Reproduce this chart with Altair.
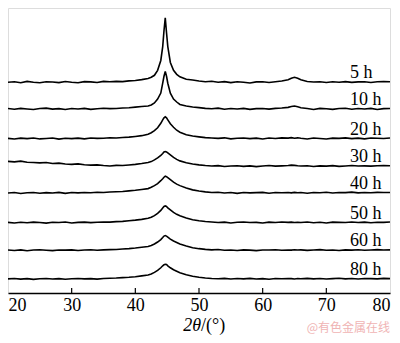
import altair as alt
import pandas as pd

# 2-theta grid (degrees)
X = [20, 21, 22, 23, 24, 25, 26, 27, 28, 29, 30, 31, 32, 33, 34, 35, 36, 37, 38, 39, 40, 41,
     42, 42.5, 43, 43.5, 44, 44.3, 44.5, 44.7, 44.9, 45.1, 45.5, 46, 46.5, 47,
     48, 49, 50, 51, 52, 53, 54, 55, 56, 57, 58, 59, 60, 61, 62, 63, 64,
     64.5, 65, 65.5,
     66, 67, 68, 69, 70, 71, 72, 73, 74, 75, 76, 77, 78, 79, 80]

LABELS = ["5 h", "10 h", "20 h", "30 h", "40 h", "50 h", "60 h", "80 h"]
OFFSETS = [213, 186, 156, 128, 101, 71, 43, 14]

I5 = ([0, 0.5, -0.5, 0.8, 0, -0.6, 0.5, 0.2, -0.4, 0.7, 0, -0.5, 0.6, 0.3, -0.3, 0.8, 0.4, 0.9, 0.6, 1.4, 1.8, 2.6]
      + [3.8, 5, 7, 12, 22, 36, 52, 65, 50, 36, 20, 12, 8, 5.5]
      + [3, 2.2, 1.2, 0.5, 1, 0, 0.6, -0.4, 0.5, 0, -0.8, 0.3, 0.4, -0.3, 0.5, 1.2, 2.5]
      + [4, 5, 4]
      + [2.5, 0.8, 0.2, 0.5, -0.3, 0.4, 0, 0.6, -0.2, 0.3, 0.5, -0.3, 0.4, 0.7, 0.5])
I10 = ([0.5, -0.3, 0.6, 0, -0.5, 0.4, 0.8, -0.2, 0.3, -0.6, 0.5, 0, 0.6, -0.4, 0.2, 0.7, 0.3, 0.5, 1, 1.2, 1.8, 2.4]
       + [3, 4, 6, 10, 16, 26, 33, 38, 33, 26, 16, 10, 7, 4.5]
       + [3, 2, 1.3, 0.6, 0.2, 0.8, -0.3, 0.5, 0, 0.6, -0.4, 0.3, 0.5, -0.2, 0.6, 0.9, 1.6]
       + [2.4, 3, 2.2]
       + [1.2, 0.4, -0.5, 0.6, 0.2, -0.4, 0.5, 0.7, -0.3, 0.4, 0, 0.6, -0.5, 0.3, 0.5])
I20 = ([0.3, -0.4, 0.5, 0, 0.6, -0.3, 0.2, 0.7, -0.5, 0.4, 0, 0.5, -0.2, 0.6, 0.3, 0.4, 0.9, 0.6, 1.2, 1.5, 2.2, 3]
       + [4.5, 6, 8, 11, 15.5, 19, 21, 22, 21, 19, 15, 11.5, 8.5, 6.5]
       + [4, 2.6, 1.8, 1, 0.6, 0.3, 0.8, -0.2, 0.4, 0.6, 0, 0.5, -0.3, 0.6, 0.2, 0.8, 0.5]
       + [1, 0.4, 0.8]
       + [0.3, -0.3, 0.6, 0.2, -0.4, 0.5, 0.3, 0.8, 0, 0.5, -0.2, 0.6, 0.4, 0.2, 0.7])
I30 = ([5, 4.5, 5.3, 4.2, 3.8, 3.5, 3.9, 2.8, 3.2, 2.4, 2, 2.5, 1.6, 1.2, 1.5, 0.8, 0.4, 1, 0.8, 1.4, 2, 2.8]
       + [3.8, 4.8, 6.5, 8.5, 11, 13, 14.5, 15, 14.5, 13.5, 11.5, 9, 7, 5.5]
       + [3.6, 2.4, 1.5, 0.8, 0.3, 0.7, -0.2, 0.4, 0.6, 0, 0.5, -0.3, 0.4, 0.8, 0.2, 0.5, 0.9]
       + [1.2, 1, 0.6]
       + [0.3, 0.6, -0.2, 0.5, 0.2, 0.7, 0, 0.4, 0.8, 0.3, 0.5, 0.2, 0.6, 0.9, 0.6])
I40 = ([0, 0.5, -0.4, 0.3, 0.6, -0.2, 0.4, 0, 0.7, -0.3, 0.5, 0.2, 0.6, 0.3, 0.8, 0.5, 1, 1.3, 1.6, 2.2, 2.8, 3.6]
       + [4.5, 5.8, 7.5, 9.5, 12.5, 14.5, 16, 17, 16.5, 15.5, 13.5, 11, 9, 7.5]
       + [5, 3.2, 2, 1.2, 0.6, 0.8, 0, 0.5, -0.3, 0.6, 0.2, 0.4, 0.7, -0.2, 0.5, 0.3, 0.6]
       + [0.2, 0.7, 0.3]
       + [0.5, -0.2, 0.6, 0.3, 0.8, 0, 0.5, 0.4, 0.9, 0.2, 0.6, 0.3, 0.7, 0.5, 0.6])
I50 = ([0.4, -0.3, 0.5, 0, 0.6, 0.2, -0.4, 0.5, 0.3, 0.7, -0.2, 0.4, 0.6, 0.1, 0.5, 0.8, 0.6, 1.1, 1.4, 2, 2.6, 3.4]
       + [4.5, 5.5, 7.2, 9.5, 12.5, 15, 16.5, 17, 16.5, 15, 13, 10.5, 8.5, 7]
       + [4.8, 3, 2, 1.2, 0.8, 0.3, 0.6, -0.2, 0.5, 0.8, 0.2, 0.4, -0.3, 0.6, 0.3, 0.7, 0.4]
       + [0.6, 0.2, 0.5]
       + [0.3, 0.7, 0, 0.5, -0.2, 0.6, 0.4, 0.2, 0.7, 0.3, 0.6, 0, 0.5, 0.4, 0.7])
I60 = ([0.5, 0, 0.6, -0.3, 0.4, 0.7, 0.2, -0.2, 0.5, 0.3, 0.6, 0, 0.4, 0.7, 0.2, 0.6, 0.8, 1, 1.4, 1.8, 2.4, 3.2]
       + [4, 5, 6.5, 8.5, 11, 13, 14.5, 15, 14.5, 13.5, 11.5, 9.5, 8, 6.5]
       + [4.5, 2.8, 1.8, 1.1, 0.6, 0.9, 0.2, 0.5, 0, 0.6, 0.3, -0.2, 0.5, 0.4, 0.7, 0.2, 0.5]
       + [0.3, 0.7, 0.4]
       + [0.6, 0.1, 0.5, 0.8, 0.2, 0.4, -0.1, 0.6, 0.3, 0.7, 0.2, 0.5, 0.8, 0.4, 0.6])
I80 = ([0.3, 0.7, 0, 0.5, -0.2, 0.4, 0.6, 0.1, 0.5, -0.1, 0.4, 0.7, 0.3, 0.5, 0, 0.6, 0.9, 1.1, 1.5, 1.9, 2.5, 3.3]
       + [4.2, 5.2, 6.8, 8.8, 11.5, 13.5, 14.5, 15, 14.8, 13.5, 11.5, 9.5, 8, 6.5]
       + [4.5, 3, 1.9, 1.2, 0.7, 0.4, 0.8, 0.1, 0.6, 0.3, 0.8, 0.2, 0.5, -0.1, 0.6, 0.4, 0.7]
       + [0.5, 0.2, 0.6]
       + [0.4, 0.8, 0.3, 0.6, 0.1, 0.5, 0.9, 0.3, 0.6, 0.2, 0.7, 0.5, 0.3, 0.8, 0.5])

SERIES = [I5, I10, I20, I30, I40, I50, I60, I80]
TICKS = [30, 40, 50, 60, 70]
TICK_LABELS = [20, 30, 40, 50, 60, 70, 80]

rows = []
for lab, off, vals in zip(LABELS, OFFSETS, SERIES):
    for x, v in zip(X, vals):
        rows.append({"series": lab, "x": x, "y": off + v})
df = pd.DataFrame(rows)
lab_df = pd.DataFrame({"series": LABELS, "y": OFFSETS})
tick_df = pd.DataFrame({"x": TICKS})

W, H = 382, 285
FONT = "Times New Roman, Liberation Serif, serif"

xscale = alt.Scale(domain=[20, 80], nice=False, zero=False)
yscale = alt.Scale(domain=[0, 288], nice=False, zero=False)

lines = alt.Chart(df).mark_line(color="black", strokeWidth=1.6).encode(
    x=alt.X("x:Q", scale=xscale,
            axis=alt.Axis(values=TICK_LABELS, title=None, tickSize=0,
                          labelFont=FONT, labelFontSize=18, labelColor="black",
                          labelPadding=3, domainColor="black", domainWidth=1.5,
                          grid=False,
                          labelAlign=alt.expr("datum.value == 20 ? 'left' : (datum.value == 80 ? 'right' : 'center')"))),
    y=alt.Y("y:Q", scale=yscale, axis=None),
    detail="series:N",
    order="x:Q",
)

labels = alt.Chart(lab_df).mark_text(font=FONT, fontSize=18, align="left",
                                      baseline="alphabetic", dy=-4, color="black").encode(
    x=alt.value(342),
    y=alt.Y("y:Q", scale=yscale),
    text="series:N",
)

ticks = alt.Chart(tick_df).mark_rule(color="black", strokeWidth=1.2).encode(
    x=alt.X("x:Q", scale=xscale),
    y=alt.value(H),
    y2=alt.value(H - 5),
)

title_a = alt.Chart(pd.DataFrame({"t": ["2θ"]})).mark_text(
    font=FONT, fontSize=18, fontStyle="italic", align="right", baseline="alphabetic", color="black"
).encode(x=alt.value(193), y=alt.value(H + 38), text="t:N")
title_b = alt.Chart(pd.DataFrame({"t": ["/(°)"]})).mark_text(
    font=FONT, fontSize=18, align="left", baseline="alphabetic", color="black"
).encode(x=alt.value(193), y=alt.value(H + 38), text="t:N")

wm = alt.Chart(pd.DataFrame({"t": ["@有色金属在线"]})).mark_text(
    font="Noto Sans CJK SC", fontSize=12, align="right", baseline="alphabetic", color="#f0b4b4"
).encode(x=alt.value(382), y=alt.value(H + 39), text="t:N")

chart = alt.layer(lines, ticks, labels, title_a, title_b, wm).properties(
    width=W, height=H,
    padding={"left": 0, "top": 0, "right": 2, "bottom": 42},
    autosize=alt.AutoSizeParams(type="none"),
).configure_view(stroke="black", strokeWidth=1.5).configure(background="white")

chart.save("out.html", embed_options={"renderer": "svg", "actions": False})
